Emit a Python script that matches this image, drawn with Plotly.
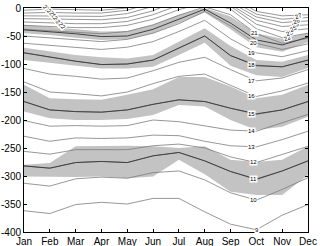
import plotly.graph_objects as go

months = ["Jan", "Feb", "Mar", "Apr", "May", "Jun", "Jul", "Aug", "Sep", "Oct", "Nov", "Dec"]
mon = list(range(1, 13))

# isotherm depths (m, negative down); positive = isotherm absent (outcrops above surface)
t27 = [-4, -2, -3, -4, 0, 20, 40, 40, 20, -6, -14, -12]
t26 = [-9, -8, -9, -9, -4, 10, 30, 30, 15, -11, -20, -17]
t25 = [-14, -14, -15, -15, -10, 3, 25, 25, 10, -16, -26, -23]
t24 = [-19, -20, -21, -21, -17, -5, 15, 20, 6, -22, -33, -30]
t23 = [-25, -27, -28, -28, -24, -12, 5, 15, 3, -29, -42, -37]
t22 = [-31, -33, -35, -35, -31, -20, -3, 10, -2, -37, -53, -45]
t21 = [-38, -41, -44, -46, -42, -30, -13, 2, -12, -46, -63, -54]
t20 = [-50, -53, -57, -60, -56, -45, -28, -6, -32, -63, -74, -64]
t19 = [-63, -67, -71, -74, -70, -60, -42, -22, -55, -80, -87, -76]
t18 = [-80, -88, -95, -101, -100, -93, -71, -50, -85, -102, -105, -93]
t17 = [-108, -118, -122, -127, -125, -112, -97, -88, -110, -130, -125, -110]
t16 = [-132, -150, -153, -157, -150, -135, -122, -118, -138, -158, -148, -134]
t15 = [-167, -182, -185, -186, -182, -172, -164, -167, -179, -190, -182, -167]
t14 = [-201, -211, -210, -211, -210, -200, -203, -210, -218, -220, -205, -190]
t13 = [-229, -238, -232, -233, -232, -227, -228, -238, -246, -248, -235, -220]
t12 = [-256, -261, -253, -253, -253, -246, -243, -250, -266, -276, -262, -247]
t11 = [-282, -286, -276, -274, -276, -264, -258, -273, -292, -305, -291, -273]
t10 = [-313, -318, -305, -302, -304, -294, -291, -307, -330, -343, -324, -303]
t9 = [-362, -367, -351, -347, -350, -340, -340, -364, -386, -396, -370, -351]
isotherms = [t9, t10, t11, t12, t13, t14, t15, t16, t17, t18, t19, t20, t21, t22, t23, t24, t25, t26, t27]

# shaded bands (top, bottom) and their mean lines
b1_top = [-30, -34, -38, -42, -41, -30, -12, 0, -15, -45, -55, -45]
b1_bot = [-45, -48, -53, -57, -56, -45, -27, -8, -38, -70, -78, -61]
b1_mid = [-39, -42, -46, -51, -50, -38, -20, -2, -27, -57, -66, -52]
b2_top = [-71, -78, -84, -88, -90, -84, -60, -36, -68, -93, -96, -84]
b2_bot = [-93, -98, -103, -108, -108, -105, -84, -62, -103, -120, -123, -107]
b2_mid = [-80, -88, -95, -101, -100, -93, -71, -50, -85, -103, -105, -93]
b3_top = [-137, -161, -163, -164, -155, -145, -123, -123, -140, -161, -155, -137]
b3_bot = [-185, -197, -200, -200, -198, -191, -173, -176, -200, -218, -212, -194]
b3_mid = [-167, -182, -185, -186, -182, -172, -164, -167, -179, -189, -182, -167]
b4_top = [-280, -277, -247, -246, -246, -247, -250, -247, -271, -275, -271, -247]
b4_bot = [-301, -302, -302, -301, -304, -301, -271, -297, -328, -334, -334, -298]
b4_mid = [-282, -286, -276, -274, -276, -264, -258, -273, -292, -306, -291, -273]
bands = [(b1_top, b1_bot, b1_mid), (b2_top, b2_bot, b2_mid), (b3_top, b3_bot, b3_mid), (b4_top, b4_bot, b4_mid)]

# contour labels
lab_text = ["21", "20", "19", "18", "17", "16", "15", "14", "13", "12", "11", "10", "9",
            "22", "23", "24", "25", "26", "27",
            "27", "26", "25", "24", "23", "22"]
lab_x = [9.91, 9.87, 9.83, 9.80, 9.83, 9.83, 9.83, 9.83, 9.83, 9.87, 9.87, 9.87, 10.02,
         11.22, 11.30, 11.42, 11.50, 11.57, 11.65,
         1.89, 2.01, 2.12, 2.24, 2.36, 2.47]
lab_y = [-45, -63, -80, -102, -130, -158, -190, -220, -248, -275, -305, -343, -396,
         -54, -44, -37, -30, -23, -15,
         -1, -7, -13, -20, -26, -33]
lab_angle = [0] * 13 + [-20] * 6 + [50] * 6

yticks = [0, -50, -100, -150, -200, -250, -300, -350, -400]
yticklabels = ["0", "-50", "-100", "-150", "-200", "-250", "-300", "-350", "-400"]

fig = go.Figure()
for top, bot, mid in bands:
    fig.add_trace(go.Scatter(x=mon, y=bot, mode="lines", line=dict(width=0, color="#c3c3c3"),
                             hoverinfo="skip", showlegend=False))
    fig.add_trace(go.Scatter(x=mon, y=top, mode="lines", line=dict(width=0, color="#c3c3c3"),
                             fill="tonexty", fillcolor="#c3c3c3", hoverinfo="skip", showlegend=False))
for iso in isotherms:
    fig.add_trace(go.Scatter(x=mon, y=iso, mode="lines", line=dict(width=0.8, color="#7c7c7c"),
                             showlegend=False))
for top, bot, mid in bands:
    fig.add_trace(go.Scatter(x=mon, y=mid, mode="lines", line=dict(width=1, color="#404040"),
                             showlegend=False))

for t, lx, ly, ang in zip(lab_text, lab_x, lab_y, lab_angle):
    fig.add_annotation(x=lx, y=ly, text=t, showarrow=False, textangle=ang,
                       font=dict(size=6, color="black", family="Liberation Sans, Arial, sans-serif"),
                       bgcolor="white", borderpad=0)

axis_common = dict(showline=True, linecolor="black", linewidth=1, mirror="ticks", ticks="inside",
                   ticklen=3, tickcolor="black", showgrid=False, zeroline=False, automargin=False,
                   tickfont=dict(size=10, color="black", family="Liberation Sans, Arial, sans-serif"))
fig.update_xaxes(range=[1, 12], tickvals=mon, ticktext=months, **axis_common)
fig.update_yaxes(range=[-400, 0], tickvals=yticks, ticktext=yticklabels, **axis_common)
fig.update_layout(width=320, height=246, margin=dict(l=24, r=12, t=8, b=14),
                  paper_bgcolor="white", plot_bgcolor="white")
fig.write_html("out.html", config={"displayModeBar": False},
               post_script="document.body.style.margin='0';document.body.style.overflow='hidden';")
